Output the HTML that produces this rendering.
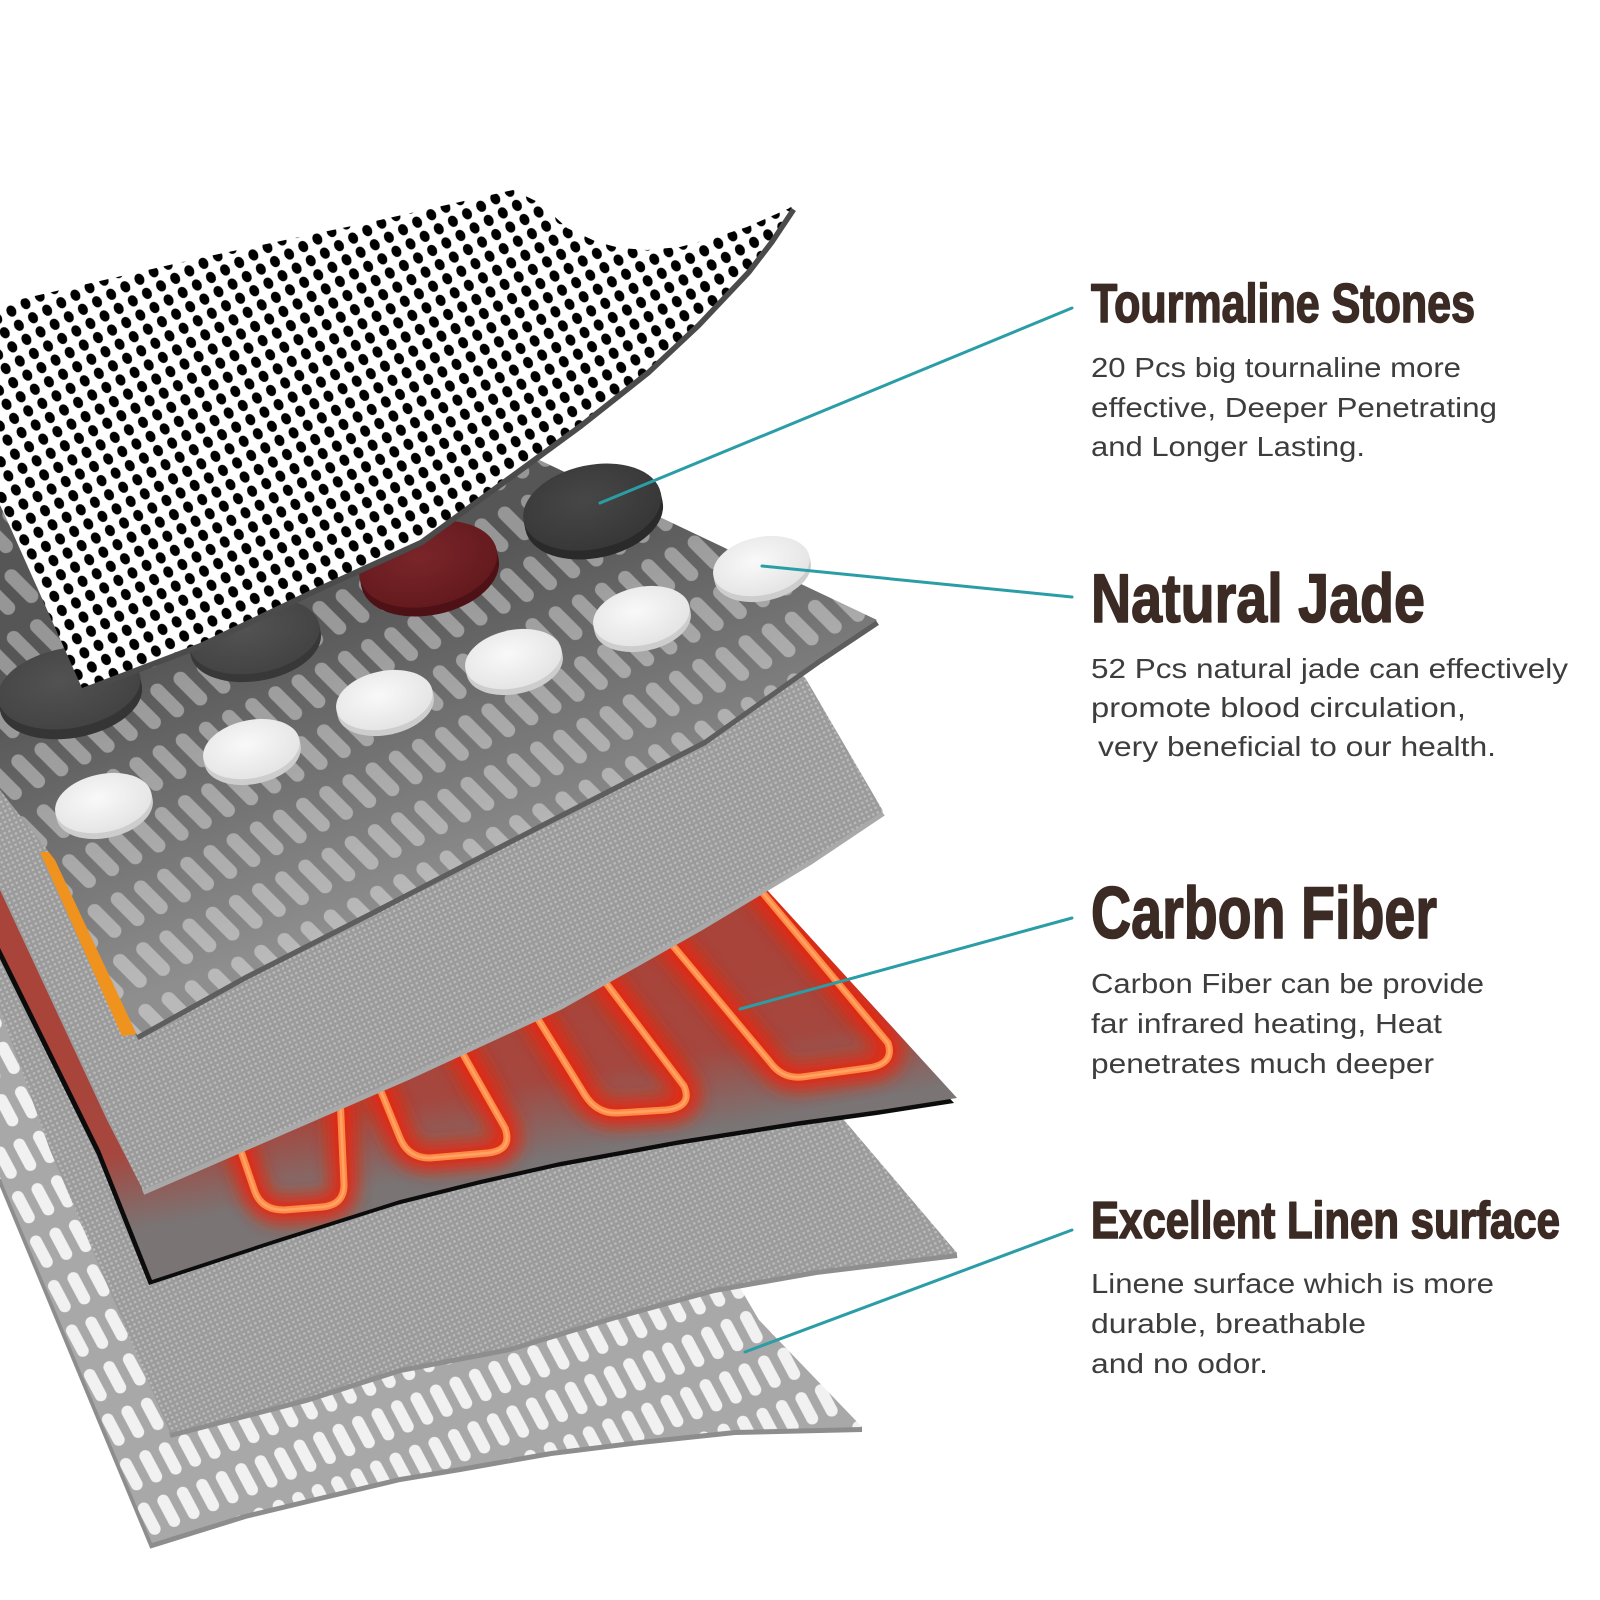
<!DOCTYPE html>
<html>
<head>
<meta charset="utf-8">
<style>
  html,body{margin:0;padding:0;background:#fff;}
  svg{display:block;}
</style>
</head>
<body>
<svg width="1600" height="1600" viewBox="0 0 1600 1600" xmlns="http://www.w3.org/2000/svg">
  <defs>
    <pattern id="dots" width="16" height="16" patternUnits="userSpaceOnUse" patternTransform="rotate(-28)">
      <rect width="16" height="16" fill="#ffffff"/>
      <ellipse cx="8" cy="8" rx="4.8" ry="5.8" fill="#000"/>
    </pattern>
    <pattern id="mesh" width="5" height="5" patternUnits="userSpaceOnUse" patternTransform="rotate(-25)">
      <rect width="5" height="5" fill="#9b9b9b"/>
      <rect x="1" y="1" width="2.4" height="2.4" fill="#b9b9b9"/>
    </pattern>
    <pattern id="pill2" width="26" height="56" patternUnits="userSpaceOnUse" patternTransform="rotate(-27)">
      <rect x="6" y="7" width="14" height="42" rx="7" fill="#ffffff" fill-opacity="0.38" transform="rotate(-18 13 28)"/>
    </pattern>
    <pattern id="pill6" width="21" height="48" patternUnits="userSpaceOnUse" patternTransform="rotate(-22)">
      <rect width="21" height="48" fill="#a8a8a8"/>
      <rect x="4.5" y="6.5" width="12" height="35" rx="6" fill="#f1f1f1" transform="rotate(-6 10.5 24)"/>
    </pattern>
    <linearGradient id="g2" gradientUnits="userSpaceOnUse" x1="330" y1="600" x2="430" y2="900">
      <stop offset="0" stop-color="#565656"/>
      <stop offset="1" stop-color="#8e8e8e"/>
    </linearGradient>
    <linearGradient id="gRed" gradientUnits="userSpaceOnUse" x1="500" y1="990" x2="530" y2="1160">
      <stop offset="0" stop-color="#a8443a"/>
      <stop offset="0.55" stop-color="#a5473e"/>
      <stop offset="1" stop-color="#7a7474"/>
    </linearGradient>
    <radialGradient id="gJade" cx="0.45" cy="0.4" r="0.65">
      <stop offset="0" stop-color="#f9f9f9"/>
      <stop offset="1" stop-color="#e3e3e3"/>
    </radialGradient>
    <radialGradient id="gDark" cx="0.45" cy="0.4" r="0.65">
      <stop offset="0" stop-color="#474747"/>
      <stop offset="1" stop-color="#363636"/>
    </radialGradient>
    <radialGradient id="gDark2" cx="0.45" cy="0.4" r="0.65">
      <stop offset="0" stop-color="#525252"/>
      <stop offset="1" stop-color="#424242"/>
    </radialGradient>
    <radialGradient id="gRedS" cx="0.45" cy="0.4" r="0.65">
      <stop offset="0" stop-color="#7a2529"/>
      <stop offset="1" stop-color="#62191d"/>
    </radialGradient>
    <filter id="glow" x="-30%" y="-30%" width="160%" height="160%">
      <feGaussianBlur stdDeviation="8"/>
    </filter>
    <clipPath id="redClip">
      <path d="M-40,850 L700,820 L767,890 L957,1098 L880,1110 L800,1121 L680,1140 L560,1162 L480,1180 L400,1200 L280,1238 L152,1280 L100,1150 L0,948 L-40,870 Z"/>
    </clipPath>
  </defs>

  <!-- Layer 6: white pill sheet (bottom) -->
  <polyline points="862,1427 735,1430 640,1440 551,1451 460,1467 400,1477 320,1496 245,1514 152,1543 0,1177" fill="none" stroke="#8d8d8d" stroke-width="6" transform="translate(0,2)"/>
  <path d="M-40,900 L700,1220 L759,1320 L862,1427 L735,1430 L640,1440 L551,1451 L460,1467 L400,1477 L320,1496 L245,1514 L152,1543 L0,1177 L-40,1090 Z" fill="url(#pill6)"/>

  <!-- Layer 5: mesh -->
  <polyline points="957,1253 816,1270 714,1288 612,1316 510,1347 400,1368 306,1398 170,1433" fill="none" stroke="#8e8e8e" stroke-width="6" transform="translate(0,2)"/>
  <path d="M-40,900 L780,1045 L850,1127 L957,1253 L816,1270 L714,1288 L612,1316 L510,1347 L400,1368 L306,1398 L170,1433 L50,1150 L0,1010 L-40,930 Z" fill="url(#mesh)"/>

  <!-- Layer 4: red carbon fiber -->
  <path d="M-40,850 L700,820 L767,890 L957,1098 L880,1110 L800,1121 L680,1140 L560,1162 L480,1180 L400,1200 L280,1238 L152,1280 L100,1150 L0,948 L-40,870 Z" fill="#0c0c0c" transform="translate(-3,5)"/>
  <path d="M-40,850 L700,820 L767,890 L957,1098 L880,1110 L800,1121 L680,1140 L560,1162 L480,1180 L400,1200 L280,1238 L152,1280 L100,1150 L0,948 L-40,870 Z" fill="url(#gRed)"/>
  <g clip-path="url(#redClip)">
    <g fill="none" stroke="#e8260c" stroke-width="28" stroke-linejoin="round" opacity="0.9" filter="url(#glow)">
      <path d="M629,893 L770,1062 Q782,1079 802,1077 L868,1068 Q895,1064 888,1043 L752,880"/>
      <path d="M520,990 L585,1095 Q597,1114 618,1113 L666,1110 Q693,1107 684,1086 L600,975"/>
      <path d="M360,1040 L400,1138 Q408,1158 430,1158 L488,1153 Q513,1150 505,1128 L455,1040"/>
      <path d="M232,1125 L255,1192 Q262,1210 284,1210 L322,1207 Q344,1205 344,1185 L340,1095"/>
    </g>
    <g fill="none" stroke="#ff8a44" stroke-width="7" stroke-linejoin="round">
      <path d="M629,893 L770,1062 Q782,1079 802,1077 L868,1068 Q895,1064 888,1043 L752,880"/>
      <path d="M520,990 L585,1095 Q597,1114 618,1113 L666,1110 Q693,1107 684,1086 L600,975"/>
      <path d="M360,1040 L400,1138 Q408,1158 430,1158 L488,1153 Q513,1150 505,1128 L455,1040"/>
      <path d="M232,1125 L255,1192 Q262,1210 284,1210 L322,1207 Q344,1205 344,1185 L340,1095"/>
    </g>
    <g fill="none" stroke="#ffa366" stroke-width="2.5" stroke-linejoin="round">
      <path d="M629,893 L770,1062 Q782,1079 802,1077 L868,1068 Q895,1064 888,1043 L752,880"/>
      <path d="M520,990 L585,1095 Q597,1114 618,1113 L666,1110 Q693,1107 684,1086 L600,975"/>
      <path d="M360,1040 L400,1138 Q408,1158 430,1158 L488,1153 Q513,1150 505,1128 L455,1040"/>
      <path d="M232,1125 L255,1192 Q262,1210 284,1210 L322,1207 Q344,1205 344,1185 L340,1095"/>
    </g>
  </g>

  <!-- Layer 3: mesh -->
  <polyline points="883,811 810,860 700,926 560,1005 408,1075 270,1135 143,1190" fill="none" stroke="#a9a9a9" stroke-width="6" transform="translate(0,2)"/>
  <path d="M-40,760 L700,560 L806,679 L883,811 L810,860 L700,926 L560,1005 L408,1075 L270,1135 L143,1190 L107,1120 L0,890 L-40,810 Z" fill="url(#mesh)"/>

  <!-- orange strip -->
  <path d="M40,852 L56,852 L138,1034 L122,1036 Z" fill="#f0921e"/>

  <!-- Layer 2: dark pill sheet -->
  <polyline points="877,620 817,660 704,740 551,818 367,913 245,975 137,1035" fill="none" stroke="#5e5e5e" stroke-width="7" transform="translate(0,2)"/>
  <path d="M-40,500 L400,395 L533,457 L877,620 L817,660 L704,740 L551,818 L367,913 L245,975 L137,1035 L55,860 L0,790 L-40,740 Z" fill="url(#g2)"/>
  <path d="M-40,500 L400,395 L533,457 L877,620 L817,660 L704,740 L551,818 L367,913 L245,975 L137,1035 L55,860 L0,790 L-40,740 Z" fill="url(#pill2)"/>

  <!-- Stones -->
  <g transform="rotate(-10 70 693)">
    <ellipse cx="70" cy="698" rx="72" ry="40" fill="#353535"/>
    <rect x="-2" y="688" width="144" height="10" fill="#353535"/>
    <ellipse cx="70" cy="688" rx="72" ry="40" fill="url(#gDark2)"/>
  </g>
  <g transform="rotate(-10 255 640)">
    <ellipse cx="255" cy="644" rx="66" ry="37" fill="#383838"/>
    <rect x="189" y="636" width="132" height="8" fill="#383838"/>
    <ellipse cx="255" cy="636" rx="66" ry="37" fill="url(#gDark2)"/>
  </g>
  <g transform="rotate(-12 429 568)">
    <ellipse cx="429" cy="573" rx="70" ry="42" fill="#4e1216"/>
    <rect x="359" y="564" width="140" height="9" fill="#4e1216"/>
    <ellipse cx="429" cy="564" rx="70" ry="42" fill="url(#gRedS)"/>
  </g>
  <g transform="rotate(-12 593 511)">
    <ellipse cx="593" cy="516" rx="70" ry="42" fill="#2a2a2a"/>
    <rect x="523" y="507" width="140" height="9" fill="#2a2a2a"/>
    <ellipse cx="593" cy="507" rx="70" ry="42" fill="url(#gDark)"/>
  </g>
  <g transform="rotate(-12 762 569)">
    <ellipse cx="762" cy="572" rx="49" ry="29" fill="#cdcdcd"/>
    <rect x="713" y="566" width="98" height="6" fill="#cdcdcd"/>
    <ellipse cx="762" cy="566" rx="49" ry="29" fill="url(#gJade)"/>
  </g>
  <g transform="rotate(-12 642 619)">
    <ellipse cx="642" cy="622" rx="49" ry="29" fill="#cdcdcd"/>
    <rect x="593" y="616" width="98" height="6" fill="#cdcdcd"/>
    <ellipse cx="642" cy="616" rx="49" ry="29" fill="url(#gJade)"/>
  </g>
  <g transform="rotate(-12 514 662)">
    <ellipse cx="514" cy="665" rx="49" ry="29" fill="#cdcdcd"/>
    <rect x="465" y="659" width="98" height="6" fill="#cdcdcd"/>
    <ellipse cx="514" cy="659" rx="49" ry="29" fill="url(#gJade)"/>
  </g>
  <g transform="rotate(-12 385 703)">
    <ellipse cx="385" cy="706" rx="49" ry="29" fill="#cdcdcd"/>
    <rect x="336" y="700" width="98" height="6" fill="#cdcdcd"/>
    <ellipse cx="385" cy="700" rx="49" ry="29" fill="url(#gJade)"/>
  </g>
  <g transform="rotate(-12 252 752)">
    <ellipse cx="252" cy="755" rx="49" ry="29" fill="#cdcdcd"/>
    <rect x="203" y="749" width="98" height="6" fill="#cdcdcd"/>
    <ellipse cx="252" cy="749" rx="49" ry="29" fill="url(#gJade)"/>
  </g>
  <g transform="rotate(-12 104 806)">
    <ellipse cx="104" cy="809" rx="49" ry="29" fill="#cdcdcd"/>
    <rect x="55" y="803" width="98" height="6" fill="#cdcdcd"/>
    <ellipse cx="104" cy="803" rx="49" ry="29" fill="url(#gJade)"/>
  </g>

  <!-- Layer 1: dotted sheet -->
  <polyline points="792,207 770,240 747,270 697,323 647,370 580,423 520,467 420,540 317,587 200,643 82,688" fill="none" stroke="#4b4b4b" stroke-width="7" stroke-linejoin="round" transform="translate(1,2)"/>
  <path d="M-40,315 L0,304 L200,258 L380,220 L513,190 L540,203 L567,228 L597,242 L620,248 L647,250 L680,247 L713,238 L747,227 L792,207 L770,240 L747,270 L697,323 L647,370 L580,423 L520,467 L420,540 L317,587 L200,643 L82,688 L7,520 L-40,420 Z" fill="url(#dots)"/>

  <!-- Teal leader lines -->
  <g stroke="#2a9da6" stroke-width="3" fill="none" stroke-linecap="round">
    <line x1="600" y1="503" x2="1072" y2="308"/>
    <line x1="762" y1="566" x2="1072" y2="597"/>
    <line x1="740" y1="1009" x2="1072" y2="918"/>
    <line x1="745" y1="1352" x2="1072" y2="1230"/>
  </g>

  <!-- Headings -->
  <g fill="#3b2b24" stroke="#3b2b24" stroke-width="1.6" stroke-linejoin="round" font-family="'Liberation Sans Narrow','Liberation Sans',sans-serif" font-weight="bold">
    <text x="1091" y="322" font-size="55" textLength="384" lengthAdjust="spacingAndGlyphs">Tourmaline Stones</text>
    <text x="1091" y="622" font-size="69" textLength="334" lengthAdjust="spacingAndGlyphs">Natural Jade</text>
    <text x="1091" y="938" font-size="73" textLength="346" lengthAdjust="spacingAndGlyphs">Carbon Fiber</text>
    <text x="1091" y="1238" font-size="52" textLength="469" lengthAdjust="spacingAndGlyphs">Excellent Linen surface</text>
  </g>

  <!-- Body text -->
  <g fill="#3d3d3d" font-family="'Liberation Sans',sans-serif" font-size="27.5">
    <text x="1091" y="377" textLength="370" lengthAdjust="spacingAndGlyphs">20 Pcs big tournaline more</text>
    <text x="1091" y="417" textLength="406" lengthAdjust="spacingAndGlyphs">effective, Deeper Penetrating</text>
    <text x="1091" y="456" textLength="274" lengthAdjust="spacingAndGlyphs">and Longer Lasting.</text>

    <text x="1091" y="678" textLength="477" lengthAdjust="spacingAndGlyphs">52 Pcs  natural jade can effectively</text>
    <text x="1091" y="717" textLength="375" lengthAdjust="spacingAndGlyphs">promote blood circulation,</text>
    <text x="1098" y="756" textLength="398" lengthAdjust="spacingAndGlyphs">very beneficial to our health.</text>

    <text x="1091" y="993" textLength="393" lengthAdjust="spacingAndGlyphs">Carbon Fiber can be provide</text>
    <text x="1091" y="1033" textLength="351" lengthAdjust="spacingAndGlyphs">far infrared heating, Heat</text>
    <text x="1091" y="1073" textLength="343" lengthAdjust="spacingAndGlyphs">penetrates much deeper</text>

    <text x="1091" y="1293" textLength="403" lengthAdjust="spacingAndGlyphs">Linene surface which is more</text>
    <text x="1091" y="1333" textLength="275" lengthAdjust="spacingAndGlyphs">durable, breathable</text>
    <text x="1091" y="1373" textLength="177" lengthAdjust="spacingAndGlyphs">and no odor.</text>
  </g>
</svg>
</body>
</html>
